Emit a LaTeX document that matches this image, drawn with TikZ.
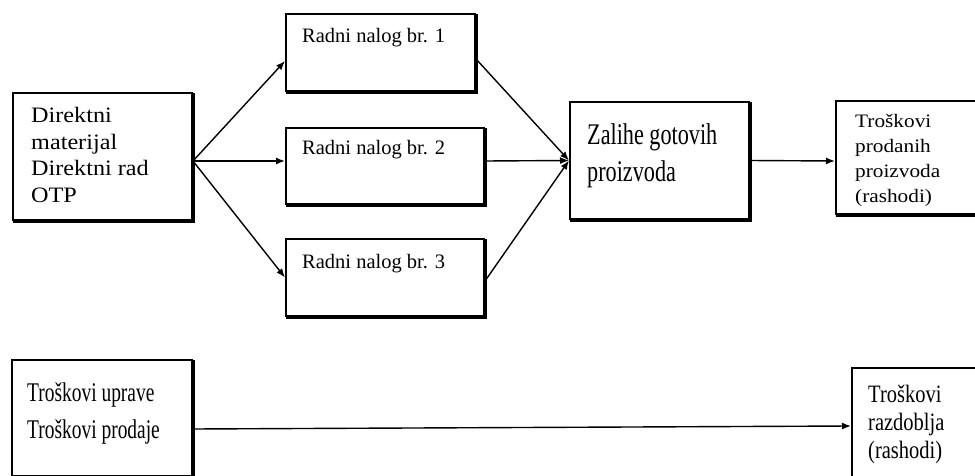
\documentclass[tikz,border=0pt]{standalone}
\usepackage{fontspec}
\setmainfont{Liberation Serif}
\newfontfamily\fDir[FakeStretch=1.1]{Liberation Serif}
\newfontfamily\fPro[FakeStretch=1.12]{Liberation Serif}
\newfontfamily\fZal[FakeStretch=0.74]{Liberation Serif}
\newfontfamily\fUpr[FakeStretch=0.72]{Liberation Serif}
\newfontfamily\fRaz[FakeStretch=0.82]{Liberation Serif}
\usetikzlibrary{arrows.meta,calc}
\begin{document}
\begin{tikzpicture}[x=1pt,y=-1pt,
  boxnode/.style={draw=black, line width=2pt, inner sep=0pt, anchor=north west, fill=white},
  txt/.style={anchor=base west, inner sep=0pt},
  conn/.style={line width=1.4pt, -{Latex[length=9pt,width=7pt]}},
  shade/.style={line width=2pt}]
\useasboundingbox (0,0) rectangle (975,476);
\clip (0,0) rectangle (975,476);
% boxes
\node[boxnode, minimum width=179pt, minimum height=127pt] (d)  at (12,92) {};
\node[boxnode, minimum width=189pt, minimum height=77pt]  (r1) at (285,13) {};
\node[boxnode, minimum width=198pt, minimum height=76pt]  (r2) at (285,127) {};
\node[boxnode, minimum width=198pt, minimum height=77pt]  (r3) at (285,238) {};
\node[boxnode, minimum width=179pt, minimum height=117pt] (z)  at (569,101) {};
\node[boxnode, minimum width=150pt, minimum height=113pt] (p)  at (835,100) {};
\node[boxnode, minimum width=180pt, minimum height=116pt] (u)  at (11,359) {};
\node[boxnode, minimum width=140pt, minimum height=122pt] (rz) at (851,367) {};
% heavier bottom/right edges
\foreach \b in {d,r1,r2,r3,z,p,u,rz}{
  \draw[shade] ([xshift=0.8pt,yshift=-0.8pt]\b.south west) -- ([xshift=0.8pt,yshift=-0.8pt]\b.south east)
    -- ([xshift=0.8pt,yshift=-0.8pt]\b.north east);
}
% texts
\node[txt] (dt) at (31,123) {\fDir\fontsize{22}{26.5}\selectfont\begin{tabular}[t]{@{}l@{}}Direktni\\materijal\\Direktni rad\\OTP\end{tabular}};
\node[txt] (r1t) at (302,43) {\fontsize{20.5}{24}\selectfont Radni nalog br. 1};
\node[txt] (r2t) at (302,155) {\fontsize{20.5}{24}\selectfont Radni nalog br. 2};
\node[txt] (r3t) at (302,268) {\fontsize{20.5}{24}\selectfont Radni nalog br. 3};
\node[txt] (zt) at (587,145) {\fZal\fontsize{30}{37}\selectfont\begin{tabular}[t]{@{}l@{}}Zalihe gotovih\\proizvoda\end{tabular}};
\node[txt] (pt) at (855,128) {\fPro\fontsize{19}{25}\selectfont\begin{tabular}[t]{@{}l@{}}Troškovi\\prodanih\\proizvoda\\(rashodi)\end{tabular}};
\node[txt] (ut) at (27,401) {\fUpr\fontsize{27}{37}\selectfont\begin{tabular}[t]{@{}l@{}}Troškovi uprave\\Troškovi prodaje\end{tabular}};
\node[txt] (rzt) at (868,402) {\fRaz\fontsize{25}{28}\selectfont\begin{tabular}[t]{@{}l@{}}Troškovi\\razdoblja\\(rashodi)\end{tabular}};
% connectors
\coordinate (hub) at ([yshift=-4.5pt]d.east);
\draw[conn] (hub) -- ([yshift=-8.5pt]r1.west);
\draw[conn] (hub) -- ([yshift=5pt]r2.west);
\draw[conn] (hub) -- (r3.west);
\draw[conn] ([yshift=-6.5pt]r1.east) -- (z.west);
\draw[conn] ([yshift=5pt]r2.east) -- (z.west);
\draw[conn] ([yshift=-3.5pt]r3.east) -- (z.west);
\draw[conn] (z.east) -- ([yshift=-3.5pt]p.west);
\draw[conn] ([yshift=-11pt]u.east) -- ([yshift=3pt]rz.west);
\end{tikzpicture}
\end{document}
